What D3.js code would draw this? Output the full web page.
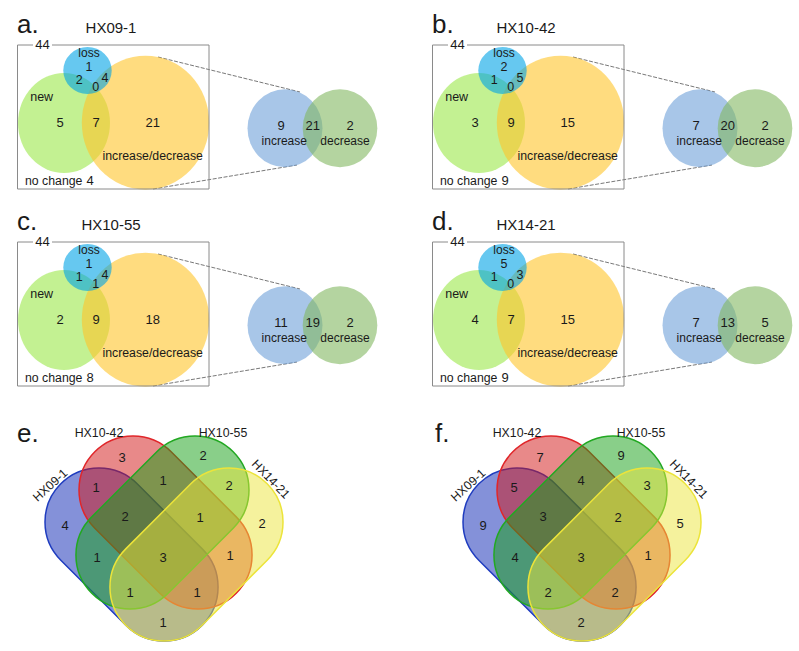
<!DOCTYPE html>
<html><head><meta charset="utf-8">
<script src="https://cdn.jsdelivr.net/npm/d3@7"></script>
<style>
body{margin:0;background:#fff}
svg{display:block}
text{font-family:"Liberation Sans",Arial,Helvetica,sans-serif;fill:#1a1a1a}
</style>
</head><body>
<script>
// ---------- data: panels a-d ----------
const panelLetters = ["a.", "b.", "c.", "d."];
const strains = ["HX09-1", "HX10-42", "HX10-55", "HX14-21"];
const totals = [44, 44, 44, 44];
const lossOnly = [1, 2, 1, 5];
const newLoss = [2, 1, 1, 1];
const newLossChange = [0, 0, 1, 0];
const lossChange = [4, 5, 4, 3];
const newOnly = [5, 3, 2, 4];
const newChange = [7, 9, 9, 7];
const changeOnly = [21, 15, 18, 15];
const noChange = [4, 9, 8, 9];
const increaseOnly = [9, 7, 11, 7];
const increaseDecrease = [21, 20, 19, 13];
const decreaseOnly = [2, 2, 2, 5];

// ---------- data: panels e-f ----------
const vennLetters = ["e.", "f."];
const vennSets = ["HX09-1", "HX10-42", "HX10-55", "HX14-21"];
const regionKeys = ["B","R","G","Y","BR","RG","GY","BRG","RGY","BG","BRGY","RY","BGY","BRY","BY"];
const vennE = [4, 3, 2, 2, 1, 1, 2, 2, 1, 1, 3, 1, 1, 1, 1];
const vennF = [9, 7, 9, 5, 5, 4, 3, 3, 2, 4, 3, 1, 2, 2, 2];

// ---------- layout ----------
const W = 799, H = 651;
const svg = d3.select("body").append("svg").attr("width", W).attr("height", H);

const panelOffsets = [[0, 0], [415, 0], [0, 197], [415, 197]];

function txt(g, x, y, s, size, anchor) {
  return g.append("text").attr("x", x).attr("y", y).attr("dy", "0.35em")
    .attr("font-size", size).attr("text-anchor", anchor || "middle").text(s);
}

function drawPanel(i) {
  const g = svg.append("g").attr("transform", `translate(${panelOffsets[i]})`);
  g.append("text").attr("x", 17).attr("y", 33).attr("font-size", 26).text(panelLetters[i]);
  g.append("text").attr("x", 111).attr("y", 33).attr("font-size", 15)
    .attr("text-anchor", "middle").text(strains[i]);

  // connector lines (behind everything)
  g.append("line").attr("x1", 158).attr("y1", 57).attr("x2", 300).attr("y2", 92)
    .attr("stroke", "#555").attr("stroke-width", 0.8).attr("stroke-dasharray", "4,1.5");
  g.append("line").attr("x1", 153).attr("y1", 189).attr("x2", 297).attr("y2", 165)
    .attr("stroke", "#555").attr("stroke-width", 0.8).attr("stroke-dasharray", "4,1.5");

  // main sets
  g.append("ellipse").attr("cx", 64).attr("cy", 123).attr("rx", 46).attr("ry", 50)
    .attr("fill", "#9be84a").attr("fill-opacity", 0.6);
  g.append("ellipse").attr("cx", 145.5).attr("cy", 122.7).attr("rx", 63.7).attr("ry", 67)
    .attr("fill", "#ffc42a").attr("fill-opacity", 0.6);
  g.append("ellipse").attr("cx", 87.5).attr("cy", 70.5).attr("rx", 24.2).attr("ry", 23.5)
    .attr("fill", "#00a3e6").attr("fill-opacity", 0.6);

  // frame with total
  g.append("path").attr("d", "M33,45H17.5V189H209V45H52")
    .attr("fill", "none").attr("stroke", "#8a8a8a").attr("stroke-width", 1);
  txt(g, 42.5, 44.5, totals[i], 13);

  // labels
  txt(g, 89, 53, "loss", 12);
  txt(g, 89, 67, lossOnly[i], 12.5);
  txt(g, 79.3, 80, newLoss[i], 12.5);
  txt(g, 95.7, 86.5, newLossChange[i], 12.5);
  txt(g, 105, 77.7, lossChange[i], 12.5);
  txt(g, 41.7, 96.7, "new", 12.5);
  txt(g, 60, 122, newOnly[i], 13);
  txt(g, 96, 122, newChange[i], 13);
  txt(g, 152.7, 122, changeOnly[i], 13);
  txt(g, 152.7, 155.7, "increase/decrease", 12.3);
  txt(g, 25, 180.7, "no change", 12.3, "start");
  txt(g, 90, 180.7, noChange[i], 13);

  // zoomed venn
  g.append("ellipse").attr("cx", 285).attr("cy", 128.3).attr("rx", 37.5).attr("ry", 39)
    .attr("fill", "#6ea0d9").attr("fill-opacity", 0.6);
  g.append("ellipse").attr("cx", 340).attr("cy", 128.3).attr("rx", 37.3).attr("ry", 39)
    .attr("fill", "#82b761").attr("fill-opacity", 0.6);
  txt(g, 281, 125, increaseOnly[i], 13);
  txt(g, 284.3, 140.7, "increase", 12);
  txt(g, 312.7, 125, increaseDecrease[i], 13);
  txt(g, 350, 125, decreaseOnly[i], 13);
  txt(g, 345, 140.7, "decrease", 12);
}
strains.forEach((s, i) => drawPanel(i));

// ---------- four-set venn ----------
const capsuleR = 54, capsuleL = 92;
const capsules = [
  {c: [99, 522], ang: Math.PI / 4, fill: "#0a23b4", stroke: "#1f3cbf"},
  {c: [133, 490], ang: Math.PI / 4, fill: "#d21414", stroke: "#e0262a"},
  {c: [195, 490], ang: 3 * Math.PI / 4, fill: "#14a014", stroke: "#22a822"},
  {c: [229, 522], ang: 3 * Math.PI / 4, fill: "#ebe63c", stroke: "#ece43a"}
];
const regionAnchors = {
  B: [65, 525], R: [122, 457], G: [203, 455], Y: [262, 523],
  BR: [96, 487], RG: [163, 480], GY: [229, 485],
  BRG: [125, 516], RGY: [200, 517], BG: [97, 557], BRGY: [163, 557], RY: [230, 555],
  BGY: [130, 592], BRY: [197, 592], BY: [163, 622]
};
const setLabelPos = [
  {x: 50, y: 485, rot: -42}, {x: 99, y: 432.5, rot: 0},
  {x: 223, y: 432.5, rot: 0}, {x: 271, y: 479, rot: 46}
];

function capsulePath(c1, ang, L, r) {
  const dx = Math.cos(ang), dy = Math.sin(ang);
  const c2 = [c1[0] + dx * L, c1[1] + dy * L];
  const tn = ang + Math.PI / 2;
  const p = d3.path();
  p.moveTo(c1[0] + r * Math.cos(tn), c1[1] + r * Math.sin(tn));
  p.lineTo(c2[0] + r * Math.cos(tn), c2[1] + r * Math.sin(tn));
  p.arc(c2[0], c2[1], r, tn, tn - Math.PI, true);
  p.lineTo(c1[0] + r * Math.cos(tn - Math.PI), c1[1] + r * Math.sin(tn - Math.PI));
  p.arc(c1[0], c1[1], r, tn - Math.PI, tn - 2 * Math.PI, true);
  p.closePath();
  return p.toString();
}

function drawVenn(k, values) {
  const g = svg.append("g").attr("transform", `translate(${k * 418},0)`);
  g.append("text").attr("x", 17).attr("y", 442).attr("font-size", 26).text(vennLetters[k]);
  capsules.forEach(cp => {
    g.append("path").attr("d", capsulePath(cp.c, cp.ang, capsuleL, capsuleR))
      .attr("fill", cp.fill).attr("fill-opacity", 0.5)
      .attr("stroke", cp.stroke).attr("stroke-width", 1.5);
  });
  regionKeys.forEach((key, j) => {
    const a = regionAnchors[key];
    txt(g, a[0], a[1], values[j], 13);
  });
  vennSets.forEach((s, j) => {
    const p = setLabelPos[j];
    g.append("text").attr("transform", `translate(${p.x},${p.y}) rotate(${p.rot})`)
      .attr("dy", "0.35em").attr("text-anchor", "middle").attr("font-size", 12.3).text(s);
  });
}
drawVenn(0, vennE);
drawVenn(1, vennF);
</script>
</body></html>
